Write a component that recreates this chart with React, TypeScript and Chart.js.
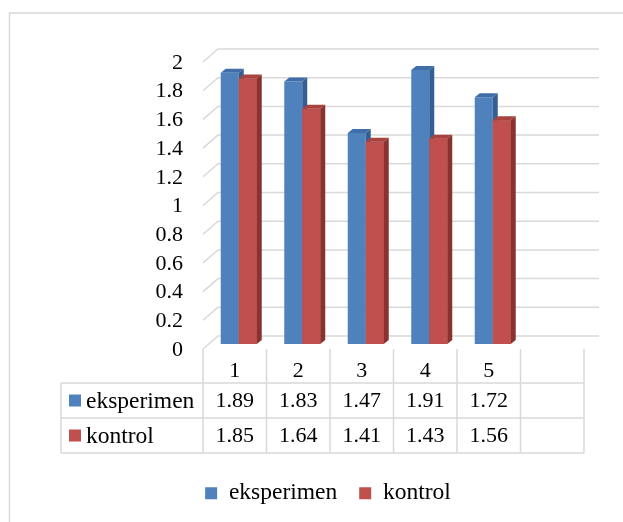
import React, { useEffect, useRef } from "react";
import { Chart, registerables } from "chart.js";

Chart.register(...registerables);

// ---- data ----
const categories: string[] = ["1", "2", "3", "4", "5", ""];
const eksperimen: (number | null)[] = [1.89, 1.83, 1.47, 1.91, 1.72, null];
const kontrol: (number | null)[] = [1.85, 1.64, 1.41, 1.43, 1.56, null];
const seriesNames: string[] = ["eksperimen", "kontrol"];
const yMin = 0;
const yMax = 2;
const yStep = 0.2;

// ---- styles ----
const FONT = "'Liberation Serif', 'Times New Roman', serif";
const NUM_SIZE = 22;
const WORD_SIZE = 23.5;
const FRONT_COLORS = ["#4F81BD", "#C0504D"];
const TOP_COLORS = ["#3F6EA8", "#A9433F"];
const SIDE_COLORS = ["#355F94", "#8A322F"];
const GRID = "#D9D9D9";
const DEPTH_X = 5;
const DEPTH_Y = 4;
const FRONT_DX = -4;
const FRONT_DY = 5;
const BACK_DX = 11;
const BACK_DY = -8;

function poly(ctx: CanvasRenderingContext2D, pts: number[][], color: string) {
  ctx.fillStyle = color;
  ctx.beginPath();
  ctx.moveTo(pts[0][0], pts[0][1]);
  for (let i = 1; i < pts.length; i++) ctx.lineTo(pts[i][0], pts[i][1]);
  ctx.closePath();
  ctx.fill();
}

const excel3d = {
  id: "excel3d",
  beforeDraw(chart: any) {
    const ctx = chart.ctx as CanvasRenderingContext2D;
    ctx.save();
    ctx.strokeStyle = GRID;
    ctx.lineWidth = 1.5;
    ctx.beginPath();
    ctx.moveTo(9.5, chart.height + 5);
    ctx.lineTo(9.5, 13);
    ctx.lineTo(chart.width + 5, 13);
    ctx.stroke();
    ctx.restore();
  },
  beforeDatasetsDraw(chart: any) {
    const ctx = chart.ctx as CanvasRenderingContext2D;
    const a = chart.chartArea;
    const y = chart.scales.y;
    ctx.save();
    ctx.strokeStyle = GRID;
    ctx.lineWidth = 1.5;
    y.ticks.forEach((t: any) => {
      const py = y.getPixelForValue(t.value);
      ctx.beginPath();
      ctx.moveTo(a.left + FRONT_DX, py + FRONT_DY);
      ctx.lineTo(a.left + BACK_DX, py + BACK_DY);
      ctx.lineTo(a.right + BACK_DX, py + BACK_DY);
      ctx.stroke();
    });
    ctx.restore();
  },
  afterDatasetsDraw(chart: any) {
    const ctx = chart.ctx as CanvasRenderingContext2D;
    const metas = chart.data.datasets.map((_: any, d: number) => chart.getDatasetMeta(d));
    ctx.save();
    for (let i = 0; i < categories.length; i++) {
      metas.forEach((meta: any, d: number) => {
        const el = meta.data[i];
        const raw = chart.data.datasets[d].data[i];
        if (!el || raw == null) return;
        if (d > 0) el.draw(ctx);
        const { x, y, base, width } = el.getProps(["x", "y", "base", "width"], true);
        const l = x - width / 2;
        const r = x + width / 2;
        poly(ctx, [[l, y], [l + DEPTH_X, y - DEPTH_Y], [r + DEPTH_X, y - DEPTH_Y], [r, y]], TOP_COLORS[d]);
        poly(ctx, [[r, y], [r + DEPTH_X, y - DEPTH_Y], [r + DEPTH_X, base - DEPTH_Y], [r, base]], SIDE_COLORS[d]);
      });
    }
    ctx.restore();
  },
  afterDraw(chart: any) {
    const ctx = chart.ctx as CanvasRenderingContext2D;
    const a = chart.chartArea;
    const xs = chart.scales.x;
    const n = categories.length;
    const colW = (a.right - a.left) / n;
    const left0 = a.left + FRONT_DX;
    const top = a.bottom + FRONT_DY;
    const headerBottom = top + 34;
    const rowH = 35;
    const labelLeft = 61;
    const rows = [eksperimen, kontrol];
    const bottom = headerBottom + rows.length * rowH;
    ctx.save();
    ctx.strokeStyle = GRID;
    ctx.lineWidth = 1.5;
    ctx.beginPath();
    for (let i = 0; i <= n; i++) {
      const xx = left0 + i * colW;
      ctx.moveTo(xx, top);
      ctx.lineTo(xx, bottom);
    }
    for (let r = 0; r <= rows.length; r++) {
      const yy = headerBottom + r * rowH;
      ctx.moveTo(labelLeft, yy);
      ctx.lineTo(left0 + n * colW, yy);
    }
    ctx.moveTo(labelLeft, headerBottom);
    ctx.lineTo(labelLeft, bottom);
    ctx.stroke();

    ctx.textBaseline = "middle";
    rows.forEach((vals, r) => {
      const cy = headerBottom + r * rowH + rowH / 2;
      ctx.fillStyle = FRONT_COLORS[r];
      ctx.fillRect(labelLeft + 8, cy - 6, 12, 12);
      ctx.fillStyle = "#000";
      ctx.textAlign = "left";
      ctx.font = `${WORD_SIZE}px ${FONT}`;
      ctx.fillText(seriesNames[r], labelLeft + 25, cy + 1);
      ctx.textAlign = "center";
      ctx.font = `${NUM_SIZE}px ${FONT}`;
      vals.forEach((v, i) => {
        if (v == null) return;
        ctx.fillText(v.toFixed(2), xs.getPixelForValue(i) + FRONT_DX, cy + 1);
      });
    });
    ctx.restore();
  },
};

export default function App() {
  const ref = useRef<HTMLCanvasElement>(null);
  useEffect(() => {
    const chart = new Chart(ref.current as HTMLCanvasElement, {
      type: "bar",
      data: {
        labels: categories,
        datasets: [
          {
            label: seriesNames[0],
            data: eksperimen,
            backgroundColor: FRONT_COLORS[0],
            borderWidth: 0,
            categoryPercentage: 0.567,
            barPercentage: 1,
          },
          {
            label: seriesNames[1],
            data: kontrol,
            backgroundColor: FRONT_COLORS[1],
            borderWidth: 0,
            categoryPercentage: 0.567,
            barPercentage: 1,
          },
        ],
      },
      options: {
        animation: false,
        responsive: false,
        events: [],
        layout: { padding: { left: 68, right: 35, top: 57, bottom: 7 } },
        plugins: {
          tooltip: { enabled: false },
          legend: {
            position: "bottom",
            labels: {
              boxWidth: 12,
              boxHeight: 12,
              padding: 22,
              color: "#000",
              font: { family: FONT, size: WORD_SIZE },
            },
          },
        },
        scales: {
          x: {
            grid: { display: false, drawTicks: false },
            border: { display: false },
            ticks: {
              color: "#000",
              font: { family: FONT, size: NUM_SIZE },
              padding: 14,
              labelOffset: FRONT_DX,
              autoSkip: false,
              maxRotation: 0,
            },
            afterFit: (s: any) => {
              s.height = 115.5;
            },
          },
          y: {
            min: yMin,
            max: yMax,
            grid: { display: false, drawTicks: false },
            border: { display: false },
            ticks: {
              stepSize: yStep,
              autoSkip: false,
              color: "#000",
              font: { family: FONT, size: NUM_SIZE },
              padding: 24,
              labelOffset: FRONT_DY + 1,
              callback: (v: any) => String(Math.round(Number(v) * 10) / 10),
            },
            afterFit: (s: any) => {
              s.width = 139;
            },
          },
        },
      },
      plugins: [excel3d],
    });
    return () => chart.destroy();
  }, []);
  return (
    <div style={{ position: "fixed", left: 0, top: 0, width: 623, height: 522, background: "#fff" }}>
      <canvas ref={ref} width={623} height={522} style={{ display: "block", width: 623, height: 522 }} />
    </div>
  );
}
